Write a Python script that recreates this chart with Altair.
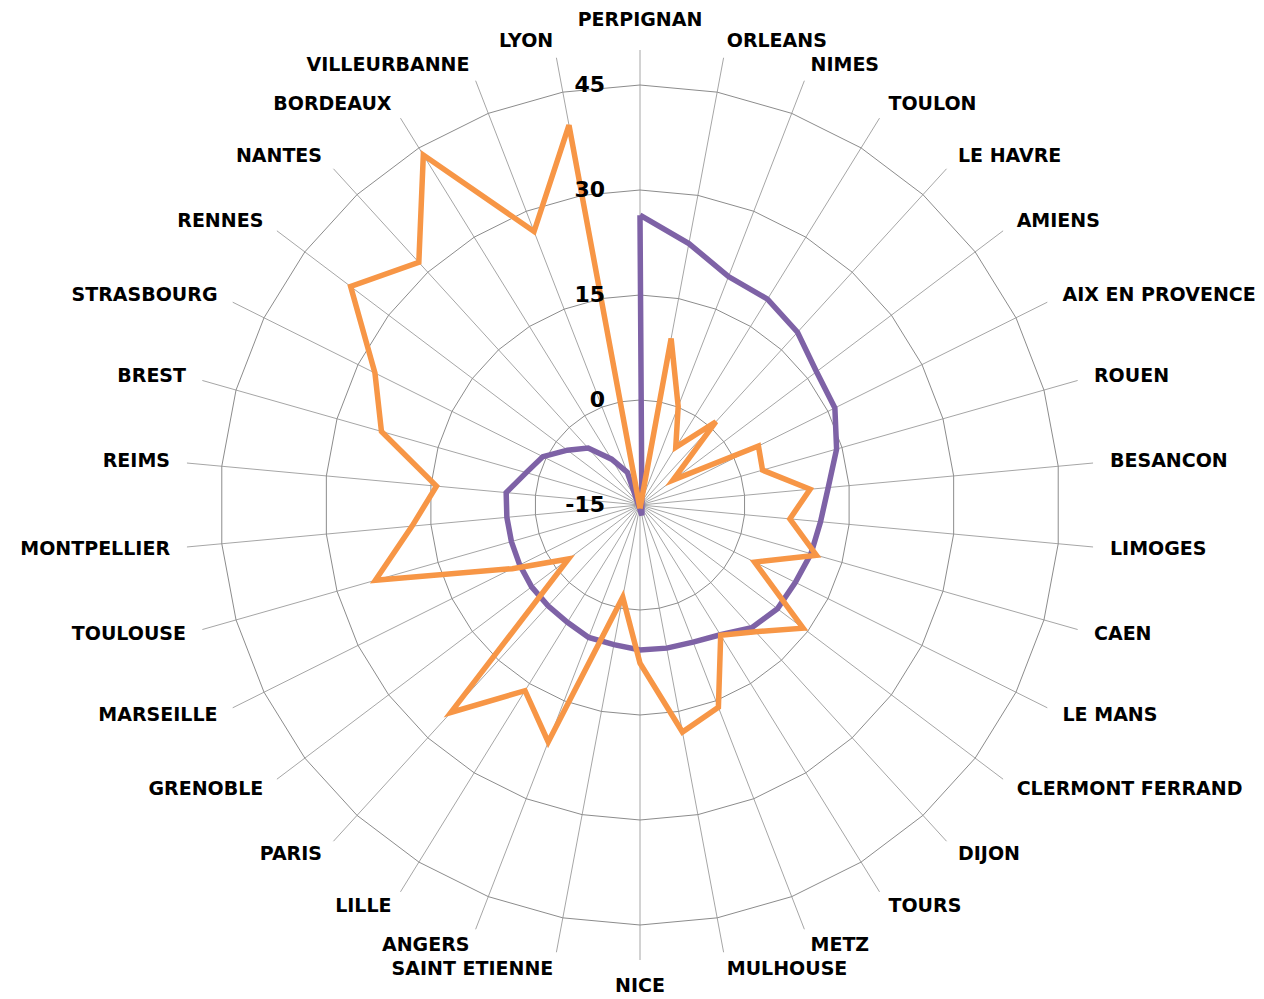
import math
import altair as alt
import pandas as pd

# ---- data ----
categories = ["PERPIGNAN", "ORLEANS", "NIMES", "TOULON", "LE HAVRE", "AMIENS",
              "AIX EN PROVENCE", "ROUEN", "BESANCON", "LIMOGES", "CAEN", "LE MANS",
              "CLERMONT FERRAND", "DIJON", "TOURS", "METZ", "MULHOUSE", "NICE",
              "SAINT ETIENNE", "ANGERS", "LILLE", "PARIS", "GRENOBLE", "MARSEILLE",
              "TOULOUSE", "MONTPELLIER", "REIMS", "BREST", "STRASBOURG", "RENNES",
              "NANTES", "BORDEAUX", "VILLEURBANNE", "LYON"]

series_purple = [26.4, 23.0, 20.0, 19.6, 18.4, 16.6, 16.1, 14.2, 12.0, 10.9, 10.4, 9.8,
                 9.6, 8.7, 6.8, 6.0, 5.8, 5.7, 5.3, 5.3, 4.7, 4.5, 4.4, 4.2,
                 4.1, 4.1, 4.2, 1.9, 0.5, -2.0, -4.0, -7.3, -10.0, -16.5]

series_orange = [-15.5, 9.2, 0.1, -5.3, 1.1, -9.1, 3.9, 3.2, 9.4, 6.5, 11.2, 3.3,
                 14.2, 9.5, 6.9, 16.0, 18.0, 7.6, -1.6, 21.3, 16.2, 25.1, -2.2, 5.4,
                 24.3, 17.7, 14.2, 23.4, 27.3, 36.8, 31.9, 43.8, 26.9, 40.2]

tick_values = [-15, 0, 15, 30, 45]
tick_labels = ["-15", "0", "15", "30", "45"]
ring_values = [0, 15, 30, 45]
axis_min = -15
axis_max = 50

series_names = ["Série 1", "Série 2"]
series_colors = ["#7E62A6", "#F79646"]

# ---- layout ----
W, H = 1248, 991
CX, CY = 632, 497          # centre of the radar in plot pixels
K = 7.0                    # pixels per value unit
LABEL_R = 472 / K          # category label distance (units)
TOP_EXTRA = 1.8            # extra distance for the label straight above
BOTTOM_EXTRA = 1.3         # extra distance for the label straight below
N = len(categories)

xscale = alt.Scale(domain=[-CX / K, (W - CX) / K], nice=False, zero=False)
yscale = alt.Scale(domain=[-(H - CY) / K, CY / K], nice=False, zero=False)

theta = f"datum.idx * 2 * PI / {N}"

# ---- tables ----
rows = []
for name, vals in zip(series_names, [series_purple, series_orange]):
    for i in range(N + 1):
        rows.append({"series": name, "idx": i, "value": vals[i % N]})
series_df = pd.DataFrame(rows)

ring_rows = []
for v in ring_values:
    for i in range(N + 1):
        ring_rows.append({"ring": v, "idx": i, "value": v})
ring_df = pd.DataFrame(ring_rows)

spoke_df = pd.DataFrame({"idx": list(range(N)), "value": [axis_max] * N})
label_df = pd.DataFrame({"idx": list(range(N)), "label": categories})
tick_df = pd.DataFrame({"value": tick_values, "label": tick_labels})


def polar(chart):
    return chart.transform_calculate(
        theta=theta,
        r=f"datum.value - ({axis_min})",
    ).transform_calculate(
        x="datum.r * sin(datum.theta)",
        y="datum.r * cos(datum.theta)",
    )


X = alt.X("x:Q", scale=xscale, axis=None)
Y = alt.Y("y:Q", scale=yscale, axis=None)

spokes = polar(alt.Chart(spoke_df)).transform_calculate(x0="0", y0="0").mark_rule(
    color="#A6A6A6", strokeWidth=1
).encode(x=alt.X("x0:Q", scale=xscale, axis=None),
         y=alt.Y("y0:Q", scale=yscale, axis=None),
         x2="x:Q", y2="y:Q")

rings = polar(alt.Chart(ring_df)).mark_line(
    color="#8C8C8C", strokeWidth=1
).encode(x=X, y=Y, detail="ring:N", order="idx:Q")

lines = polar(alt.Chart(series_df)).mark_line(strokeWidth=5.5).encode(
    x=X, y=Y,
    color=alt.Color("series:N", scale=alt.Scale(domain=series_names, range=series_colors),
                    legend=None),
    order="idx:Q",
)

tick_text = alt.Chart(tick_df).transform_calculate(
    x="-5", y=f"datum.value - ({axis_min})"
).mark_text(align="right", baseline="middle", font="DejaVu Sans", fontWeight="bold",
            fontSize=22, color="#000000").encode(x=X, y=Y, text="label:N")

label_base = alt.Chart(label_df).transform_calculate(
    theta=theta
).transform_calculate(
    s="sin(datum.theta)", c="cos(datum.theta)"
).transform_calculate(
    x=f"{LABEL_R} * datum.s",
    y=(f"{LABEL_R} * datum.c + (abs(datum.s) < 0.01 ? "
       f"(datum.c > 0 ? {TOP_EXTRA} : -{BOTTOM_EXTRA}) : 0)"),
)

lab_kw = dict(baseline="middle", font="DejaVu Sans", fontWeight="bold", fontSize=19,
              color="#000000")
labels_right = label_base.transform_filter("datum.s > 0.01").mark_text(
    align="left", **lab_kw).encode(x=X, y=Y, text="label:N")
labels_left = label_base.transform_filter("datum.s < -0.01").mark_text(
    align="right", **lab_kw).encode(x=X, y=Y, text="label:N")
labels_mid = label_base.transform_filter("abs(datum.s) <= 0.01").mark_text(
    align="center", **lab_kw).encode(x=X, y=Y, text="label:N")

chart = alt.layer(
    spokes, rings, lines, tick_text, labels_right, labels_left, labels_mid
).properties(
    width=W, height=H, padding=0,
    autosize=alt.AutoSizeParams(type="none"),
    background="#FFFFFF",
).configure_view(stroke=None)

chart.save("out.html", embed_options={"renderer": "svg", "actions": False})
